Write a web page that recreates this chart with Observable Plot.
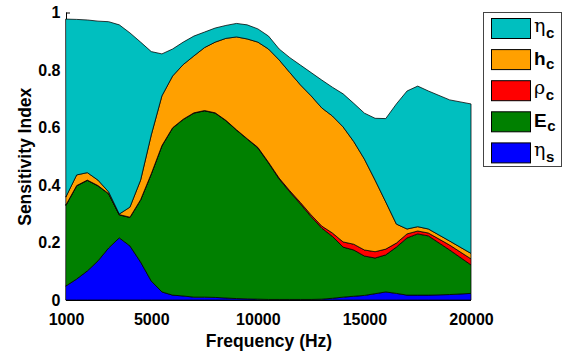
<!DOCTYPE html>
<html><head><meta charset="utf-8">
<script src="https://cdn.jsdelivr.net/npm/d3@7"></script>
<script src="https://cdn.jsdelivr.net/npm/@observablehq/plot@0.6"></script>
<style>
html,body{margin:0;padding:0;background:#fff;}
#wrap{position:relative;width:564px;height:356px;}
#legend{position:absolute;left:483px;top:12px;}
g[aria-label="x-axis label"] text, g[aria-label="y-axis label"] text{font-size:17.5px;}
</style></head>
<body><div id="wrap"></div>
<script>
// Frequencies (Hz)
const freq = [1000,1500,2000,2500,3000,3500,4000,4500,5000,5500,6000,6500,7000,7500,8000,8500,9000,9500,10000,10500,11000,11500,12000,12500,13000,13500,14000,14500,15000,15500,16000,16500,17000,17500,18000,19000,20000];
// Layer values (stacked bottom to top: etaS, Ec, rhoC, hC, etaC)
const etaS = [0.049,0.073,0.101,0.136,0.181,0.216,0.188,0.132,0.066,0.028,0.017,0.014,0.010,0.010,0.009,0.007,0.005,0.004,0.003,0.002,0.002,0.002,0.002,0.002,0.003,0.006,0.010,0.013,0.016,0.022,0.028,0.023,0.017,0.017,0.017,0.019,0.023];
const Ec   = [0.281,0.324,0.315,0.261,0.188,0.080,0.099,0.216,0.372,0.508,0.581,0.614,0.640,0.648,0.641,0.617,0.586,0.556,0.526,0.475,0.419,0.374,0.332,0.288,0.247,0.215,0.174,0.161,0.137,0.124,0.129,0.161,0.199,0.213,0.206,0.155,0.099];
const rhoC = [0.001,0.001,0.001,0.001,0.001,0.001,0.001,0.001,0.001,0.001,0.001,0.001,0.001,0.001,0.001,0.001,0.001,0.001,0.002,0.002,0.003,0.004,0.005,0.006,0.007,0.012,0.018,0.020,0.021,0.022,0.020,0.014,0.014,0.010,0.010,0.017,0.021];
const hC   = [0.028,0.037,0.026,0.019,0.006,0.002,0.035,0.068,0.135,0.173,0.180,0.190,0.198,0.219,0.246,0.285,0.323,0.347,0.366,0.394,0.411,0.411,0.409,0.414,0.411,0.407,0.400,0.357,0.316,0.249,0.164,0.066,0.017,0.015,0.014,0.014,0.019];
const etaC = [0.618,0.541,0.531,0.553,0.592,0.658,0.606,0.480,0.290,0.146,0.094,0.078,0.069,0.054,0.049,0.045,0.047,0.049,0.046,0.045,0.038,0.052,0.069,0.081,0.097,0.100,0.115,0.133,0.160,0.215,0.290,0.418,0.480,0.489,0.480,0.491,0.520];

const seriesKeys   = ["etaS","Ec","rhoC","hC","etaC"];
const seriesBase   = ["η","E","ρ","h","η"];
const seriesSub    = ["s","c","c","c","c"];
const seriesColors = ["#0000ff","#008000","#ff0000","#ffa000","#00bfbf"];
const xTicks = [1000,5000,10000,15000,20000];
const yTicks = [0,0.2,0.4,0.6,0.8,1];

const layers = [etaS, Ec, rhoC, hC, etaC];
const data = [];
seriesKeys.forEach((k, i) => {
  freq.forEach((f, j) => data.push({series: k, freq: f, value: layers[i][j]}));
});

const chart = Plot.plot({
  width: 564,
  height: 356,
  marginLeft: 66,
  marginRight: 93,
  marginTop: 12.5,
  marginBottom: 56,
  style: {fontFamily: "'Liberation Sans', Arial, sans-serif", fontSize: "16px", fontWeight: "bold", color: "#000", background: "#fff"},
  x: {domain: [1000, 20000]},
  y: {domain: [0, 1]},
  color: {domain: seriesKeys, range: seriesColors},
  marks: [
    Plot.ruleX([1000], {stroke: "#000"}),
    Plot.axisY({ticks: yTicks, tickFormat: d => String(d), tickSize: -4, tickPadding: 10, label: "Sensitivity Index", labelAnchor: "center", labelOffset: 48, labelArrow: "none", stroke: "#000"}),
    Plot.axisX({ticks: xTicks, tickFormat: d => String(d), tickSize: 0, tickPadding: 13, label: "Frequency (Hz)", labelAnchor: "center", labelOffset: 46, labelArrow: "none"}),
    Plot.areaY(data, {x: "freq", y: "value", fill: "series", z: "series", stroke: "#000", strokeWidth: 0.9, strokeOpacity: 0.85, order: null}),
    Plot.ruleY([0], {stroke: "#000"})
  ]
});
document.getElementById("wrap").appendChild(chart);

// Legend (top-to-bottom order is reverse of stacking order)
const lw = 79, lh = 155;
const leg = d3.select("#wrap").append("svg").attr("id", "legend").attr("width", lw).attr("height", lh);
leg.append("rect").attr("x", 0.5).attr("y", 0.5).attr("width", lw - 1).attr("height", lh - 1)
  .attr("fill", "#fff").attr("stroke", "#444");
const order = [4, 3, 2, 1, 0];
order.forEach((si, r) => {
  const top = 6 + r * 31.1;
  leg.append("rect").attr("x", 8.5).attr("y", top + 0.5).attr("width", 39).attr("height", 20)
    .attr("fill", seriesColors[si]).attr("stroke", "#000");
  const serif = seriesBase[si] === "η" || seriesBase[si] === "ρ";
  const t = leg.append("text").attr("x", 51).attr("y", top + (serif ? 14 : 15.5))
    .attr("font-family", serif ? "'DejaVu Serif', serif" : "'Liberation Sans', Arial, sans-serif")
    .attr("font-weight", serif ? "normal" : "bold")
    .attr("font-size", 19)
    .text(seriesBase[si]);
  const w = t.node().getComputedTextLength();
  leg.append("text").attr("x", 51 + w + 0.5).attr("y", top + 20)
    .attr("font-family", "'Liberation Sans', Arial, sans-serif")
    .attr("font-weight", "bold").attr("font-size", 15)
    .text(seriesSub[si]);
});
</script>
</body></html>
